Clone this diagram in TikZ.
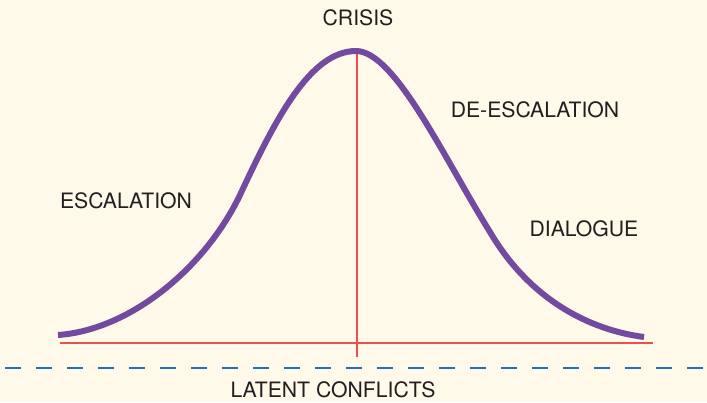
\documentclass[tikz,border=0pt]{standalone}
\usepackage{fontspec}
\setmainfont{TeX Gyre Heros}
\definecolor{bg}{HTML}{FEF9E8}
\definecolor{curvec}{HTML}{7449A0}
\definecolor{redl}{HTML}{F04E4E}
\definecolor{bluel}{HTML}{1F72B8}
\definecolor{txt}{HTML}{231F20}
\begin{document}
\begin{tikzpicture}[x=1pt,y=-1pt,
  lbl/.style={inner sep=0pt, text=txt, font=\fontsize{21.2}{23}\selectfont},
  redline/.style={draw=redl, line width=1.2pt},
  dashline/.style={draw=bluel, line width=2.2pt, dash pattern=on 16pt off 15pt},
  bell/.style={draw=curvec, line width=6pt, line join=round}]
\fill[bg] (0,0) rectangle (707,402);
\useasboundingbox (0,0) rectangle (707,402);
% axes
\coordinate (bl) at (60,343);
\coordinate (br) at (653,343);
\coordinate (vt) at (357,48);
\coordinate (vb) at (357,357);
\draw[redline] (bl) -- (br);
\draw[redline] (vt) -- (vb);
% dashed line
\coordinate (dl) at (5,368);
\coordinate (dr) at (707,368);
\draw[dashline] (dl) -- (dr);
% bell curve
\coordinate (c0) at (58,335);
\coordinate (c1) at (240,195);
\coordinate (c2) at (356,51);
\coordinate (c3) at (490,232);
\coordinate (c4) at (644,337);
\draw[bell] (c0) .. controls (130,330) and (205,268) .. (c1)
  .. controls (275,120) and (310,51) .. (c2)
  .. controls (395,51) and (445,160) .. (c3)
  .. controls (530,300) and (590,330) .. (c4);
% labels
\node[lbl] (crisis) at (358,18) {CRISIS};
\node[lbl] (esc) at (126,201) {ESCALATION};
\node[lbl] (desc) at (535,110) {DE-ESCALATION};
\node[lbl] (dial) at (584,229) {DIALOGUE};
\node[lbl] (latent) at (333,390) {LATENT CONFLICTS};
\end{tikzpicture}
\end{document}
